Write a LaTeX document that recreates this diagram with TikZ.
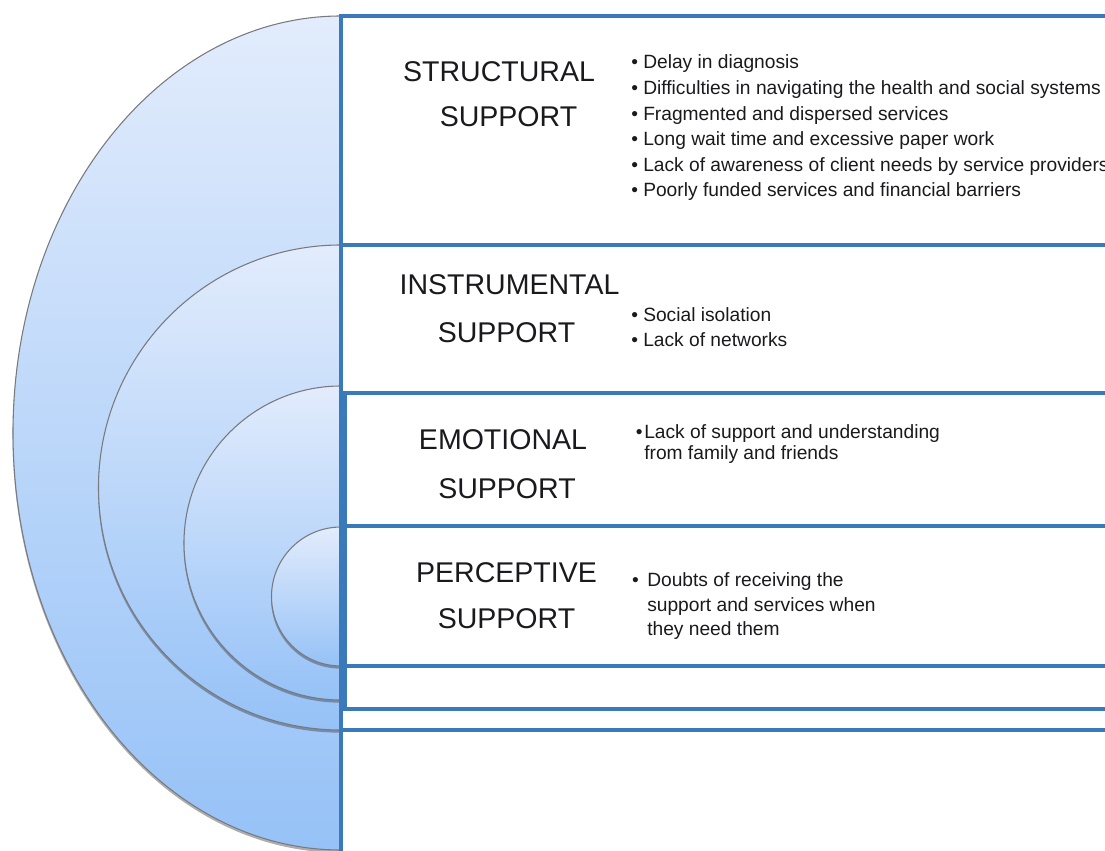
\documentclass[tikz,border=0pt]{standalone}
\usepackage{fontspec}
\setmainfont{Liberation Sans}
\usetikzlibrary{shadows}

\definecolor{frameblue}{RGB}{58,122,186}
\definecolor{ringtop}{RGB}{226,236,252}
\definecolor{ringbot}{RGB}{150,194,247}
\definecolor{ringedge}{RGB}{120,122,128}
\definecolor{inktext}{RGB}{26,26,30}

% bullet hung to the left of the item text, #1 = gap before the text
\newcommand\hangbul[1]{\llap{\textbullet\hspace{#1}}}

\begin{document}
\begin{tikzpicture}[x=0.75pt,y=0.75pt,
  ring/.style={draw=ringedge,line width=0.8pt,top color=ringtop,bottom color=ringbot,
    drop shadow={shadow xshift=-0.3pt,shadow yshift=-2pt,opacity=0.4,fill=black!80}},
  frame/.style={draw=frameblue,line width=2.4pt},
  head/.style={anchor=base,inner sep=0pt,text=inktext,font=\fontsize{21.4}{25}\selectfont},
  item/.style={anchor=base west,inner sep=0pt,text=inktext,font=\fontsize{14.4}{17}\selectfont},
]
\useasboundingbox (0,0) rectangle (1105,850);
\clip (0,0) rectangle (1105,850);

% nested half discs, outermost first
\path[ring] (341,834) arc[start angle=90,end angle=270,x radius=246pt,y radius=312.75pt] -- cycle;
\path[ring] (341,605) arc[start angle=90,end angle=270,radius=181.875pt] -- cycle;
\path[ring] (341,464) arc[start angle=90,end angle=270,radius=117.75pt] -- cycle;
\path[ring] (341,323) arc[start angle=90,end angle=270,radius=52.125pt] -- cycle;

% nested boxes on the right
\draw[frame] (341,834) rectangle (1140,-30);
\draw[frame] (341,605) rectangle (1140,120);
\draw[frame] (345,457) rectangle (1140,141);
\draw[frame] (341,324) rectangle (1140,184);

% headings
\node[head] (hs1) at (499,768) {STRUCTURAL};
\node[head] (hs2) at (508.5,723) {SUPPORT};
\node[head] (hi1) at (509.5,555) {INSTRUMENTAL};
\node[head] (hi2) at (506.5,507) {SUPPORT};
\node[head] (he1) at (503,400.5) {EMOTIONAL};
\node[head] (he2) at (507,351.5) {SUPPORT};
\node[head] (hp1) at (506.5,268) {PERCEPTIVE};
\node[head] (hp2) at (506.5,222) {SUPPORT};

% structural items
\node[item] (s1) at (643,781) {\hangbul{3.8pt}Delay in diagnosis};
\node[item] (s2) at (643,755.4) {\hangbul{3.8pt}Difficulties in navigating the health and social systems};
\node[item] (s3) at (643,729.8) {\hangbul{3.8pt}Fragmented and dispersed services};
\node[item] (s4) at (643,704.2) {\hangbul{3.8pt}Long wait time and excessive paper work};
\node[item] (s5) at (643,678.6) {\hangbul{3.8pt}Lack of awareness of client needs by service providers};
\node[item] (s6) at (643,653) {\hangbul{3.8pt}Poorly funded services and financial barriers};

% instrumental items
\node[item] (i1) at (643,528.3) {\hangbul{3.8pt}Social isolation};
\node[item] (i2) at (643,503.3) {\hangbul{3.8pt}Lack of networks};

% emotional item
\node[item] (e1) at (644,411.7) {\hangbul{1.2pt}Lack of support and understanding};
\node[item] (e2) at (644,390) {from family and friends};

% perceptive item
\node[item] (p1) at (647,263.3) {\hangbul{6.4pt}Doubts of receiving the};
\node[item] (p2) at (647,238.3) {support and services when};
\node[item] (p3) at (647,215) {they need them};
\end{tikzpicture}
\end{document}
